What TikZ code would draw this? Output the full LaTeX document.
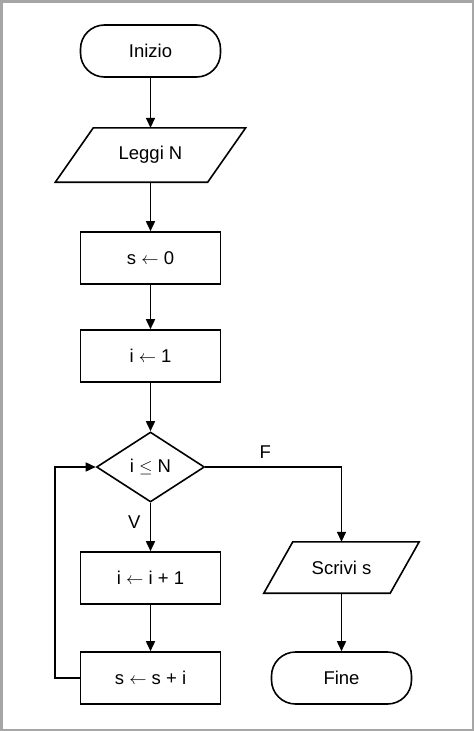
\documentclass[tikz,border=0pt]{standalone}
\usepackage{fontspec}
\setmainfont{Liberation Sans}
\usetikzlibrary{shapes.geometric,arrows.meta}
\begin{document}
\begin{tikzpicture}[x=1pt,y=-1pt,
  every node/.style={font=\fontsize{18.5}{21}\selectfont},
  box/.style={draw,line width=1.6pt,minimum width=140pt,minimum height=52pt,inner sep=0pt},
  term/.style={box,rounded corners=24pt},
  io/.style={minimum height=53pt,inner sep=0pt},
  para/.style={line width=1.6pt},
  dec/.style={draw,line width=1.6pt,diamond,aspect=1.55,minimum width=108pt,minimum height=70pt,inner sep=0pt},
  arr/.style={line width=1.6pt,-{Triangle[length=10pt,width=9pt]}}]
\draw[gray!70,line width=2.5pt,fill=white] (1.25,1.25) rectangle (472.75,729.75);
\useasboundingbox (0,0) rectangle (474,731);
\node[term] (inizio) at (150.5,51) {Inizio};
\node[io,minimum width=152pt,minimum height=54pt] (leggi) at (150.5,155) {Leggi N};
\draw[para] ([xshift=19pt]leggi.north west) -- ([xshift=19pt]leggi.north east) -- ([xshift=-19pt]leggi.south east) -- ([xshift=-19pt]leggi.south west) -- cycle;
\node[box] (s0) at (150.5,258) {s $\leftarrow$ 0};
\node[box] (i1) at (150.5,356) {i $\leftarrow$ 1};
\node[dec] (cond) at (150.5,467) {i $\leq$ N};
\node[box] (inc) at (150.5,578) {i $\leftarrow$ i + 1};
\node[box] (sum) at (150.5,678) {s $\leftarrow$ s + i};
\node[io,minimum width=126pt,minimum height=51pt] (scrivi) at (341.5,567.5) {Scrivi s};
\draw[para] ([xshift=14.5pt]scrivi.north west) -- ([xshift=14.5pt]scrivi.north east) -- ([xshift=-14.5pt]scrivi.south east) -- ([xshift=-14.5pt]scrivi.south west) -- cycle;
\node[term] (fine) at (341.5,678) {Fine};
\coordinate (lb) at (55,678);
\coordinate (lt) at (55,467);
\coordinate (rt) at (341.5,467);
\draw[arr] (inizio) -- (leggi);
\draw[arr] (leggi) -- (s0);
\draw[arr] (s0) -- (i1);
\draw[arr] (i1) -- (cond);
\draw[arr] (cond) -- node[pos=0.4,left=6pt]{V} (inc);
\draw[arr] (inc) -- (sum);
\draw[arr] (sum.west) -- (lb) -- (lt) -- (cond.west);
\draw[arr] (cond.east) -- node[above=4pt,pos=0.44]{F} (rt) -- (scrivi.north);
\draw[arr] (scrivi) -- (fine);
\end{tikzpicture}
\end{document}
